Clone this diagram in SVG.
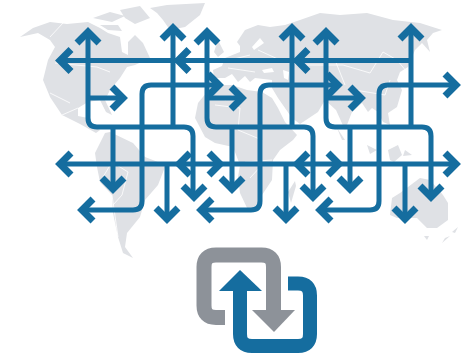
<svg xmlns="http://www.w3.org/2000/svg" width="463" height="355" viewBox="0 0 463 355">
<style>
.land{fill:#dfe1e5;stroke:none}
.border{fill:none;stroke:#fff;stroke-width:.8}
.sea{fill:#fff;stroke:none}
.c{fill:none;stroke:#156d9f;stroke-width:5}
.h{fill:none;stroke:#156d9f;stroke-width:7}
</style>
<rect width="463" height="355" fill="#fff"/>
<g id="map">
<path class="land" d="M20 37L33 28L50 22L67 24L88 22L100 28L108 33L120 37L122 52L128 55L128 42L135 35L143 43L150 58L135 65L127 67L120 78L110 90L105 100L112 115L106 112L100 100L88 102L78 108L78 116L88 118L92 126L100 130L96 133L80 124L62 115L50 97L43 80L48 60L55 47L50 40L38 33Z"/>
<path class="land" d="M93 18L110 12L125 16L112 22ZM120 10L140 6L150 18L135 24L125 18ZM100 25L118 25L122 31L108 30Z"/>
<path class="land" d="M150 8L167 5L205 3L200 15L185 27L170 30L163 20L157 13Z"/>
<path class="land" d="M237 42L245 30L258 25L270 27L285 25L300 20L320 13L340 15L367 13L393 20L420 23L442 30L433 33L427 40L430 52L422 43L415 50L408 67L400 72L397 80L402 90L397 107L388 113L390 125L383 122L378 112L372 108L368 112L362 103L352 112L345 130L336 110L325 100L318 112L300 124L292 118L278 98L272 88L272 80L255 78L250 82L245 76L238 82L232 74L225 78L214 78L213 70L222 66L225 58L240 52L240 46Z"/>
<path class="land" d="M214 52L218 40L224 52L218 57Z"/>
<path class="land" d="M213 85L232 85L247 90L262 92L272 98L278 108L285 122L297 135L293 140L280 150L273 160L272 180L262 195L257 210L248 210L240 193L238 177L240 165L233 147L215 143L205 137L195 118L198 103L207 92Z"/>
<path class="land" d="M288 192L295 181L296 186L291 203Z"/>
<path class="land" d="M105 133L110 132L133 143L145 157L158 162L165 167L158 185L145 200L140 217L127 233L125 247L133 258L123 253L118 237L113 213L112 195L100 182L97 167L95 153L103 137Z"/>
<path class="land" d="M337 128L345 140L342 140ZM367 145L377 150L370 154ZM388 150L398 145L402 155L394 162L390 160ZM405 150L412 155L403 156Z"/>
<path class="land" d="M392 198L400 193L420 178L430 180L443 195L448 203L448 220L437 228L427 228L417 218L397 218L390 215Z"/>
<path class="land" d="M458 227L455 233L452 232ZM450 236L442 243L445 238ZM424 236L429 236L427 240Z"/>
<path class="sea" d="M262 70L272 68L274 72L264 73ZM283 70L289 72L288 80L284 78ZM260 38L264 43L254 50L252 47Z"/>
<path class="border" d="M50 37L63 23M55 63L97 67L110 72M50 93L70 103M62 115L78 108M100 182L112 162L128 172L122 195L113 205M112 195L118 237M215 105L240 108L238 130L262 140L262 165L250 178M225 100L238 92M272 160L245 162M300 65L343 65L370 73L383 52L397 60L407 72M355 90L385 95L390 80M335 60L345 85M258 50L280 60L300 65M230 60L250 55M228 68L255 72"/>
</g>
<g id="connectors">
<g class="c">
<path d="M60 60.500H411"/>
<path d="M60 164H456"/>
<path d="M88 32V118Q88 127 97 127H184Q193 127 193 136V197"/>
<path d="M207 32V118Q207 127 216 127H304Q313 127 313 136V197"/>
<path d="M326 32V118Q326 127 335 127H422Q431 127 431 136V197"/>
<path d="M173 28V127M292 28V127M411 28V127"/>
<path d="M88 98H123M207 98H242M326 98H361"/>
<path d="M82 210H133Q142 210 142 201V94Q142 85 151 85H219"/>
<path d="M201 210H251Q260 210 260 201V94Q260 85 269 85H338"/>
<path d="M320 210H370Q379 210 379 201V94Q379 85 388 85H456"/>
<path d="M113 127V189M232 127V189M350 127V189"/>
<path d="M167 164V219M286 164V219M405 164V219"/>
</g>
<g class="h">
<path d="M71 49.500L60 60.500L71 71.500M189 49.500L178 60.500L189 71.500M308 49.500L297 60.500L308 71.500"/>
<path d="M71 153L60 164L71 175M190 153L179 164L190 175M308 153L297 164L308 175M209 153L220 164L209 175M328 153L339 164L328 175M445 153L456 164L445 175"/>
<path d="M77 43L88 32L99 43M196 43L207 32L218 43M315 43L326 32L337 43"/>
<path d="M162 39L173 28L184 39M281 39L292 28L303 39M400 39L411 28L422 39"/>
<path d="M112 87L123 98L112 109M231 87L242 98L231 109M350 87L361 98L350 109"/>
<path d="M208 74L219 85L208 96M327 74L338 85L327 96M445 74L456 85L445 96"/>
<path d="M93 199L82 210L93 221M212 199L201 210L212 221M331 199L320 210L331 221"/>
<path d="M102 178L113 189L124 178M221 178L232 189L243 178M339 178L350 189L361 178"/>
<path d="M183 186L194 197L205 186M302 186L313 197L324 186M420 186L431 197L442 186"/>
<path d="M156 208L167 219L178 208M275 208L286 219L297 208M394 208L405 219L416 208"/>
</g>
</g>
<g id="logo">
<path d="M225 317.500H216Q204 317.500 204 305.500V267Q204 255 216 255H261.500Q273.500 255 273.500 267V312" fill="none" stroke="#8d9299" stroke-width="15"/>
<path d="M252 310H295L274 332Z" fill="#8d9299"/>
<path d="M288 283.500H298Q310 283.500 310 295.500V334Q310 346 298 346H252Q240 346 240 334V289" fill="none" stroke="#156d9f" stroke-width="14"/>
<path d="M219 291H262L240 270Z" fill="#156d9f"/>
</g>
</svg>
